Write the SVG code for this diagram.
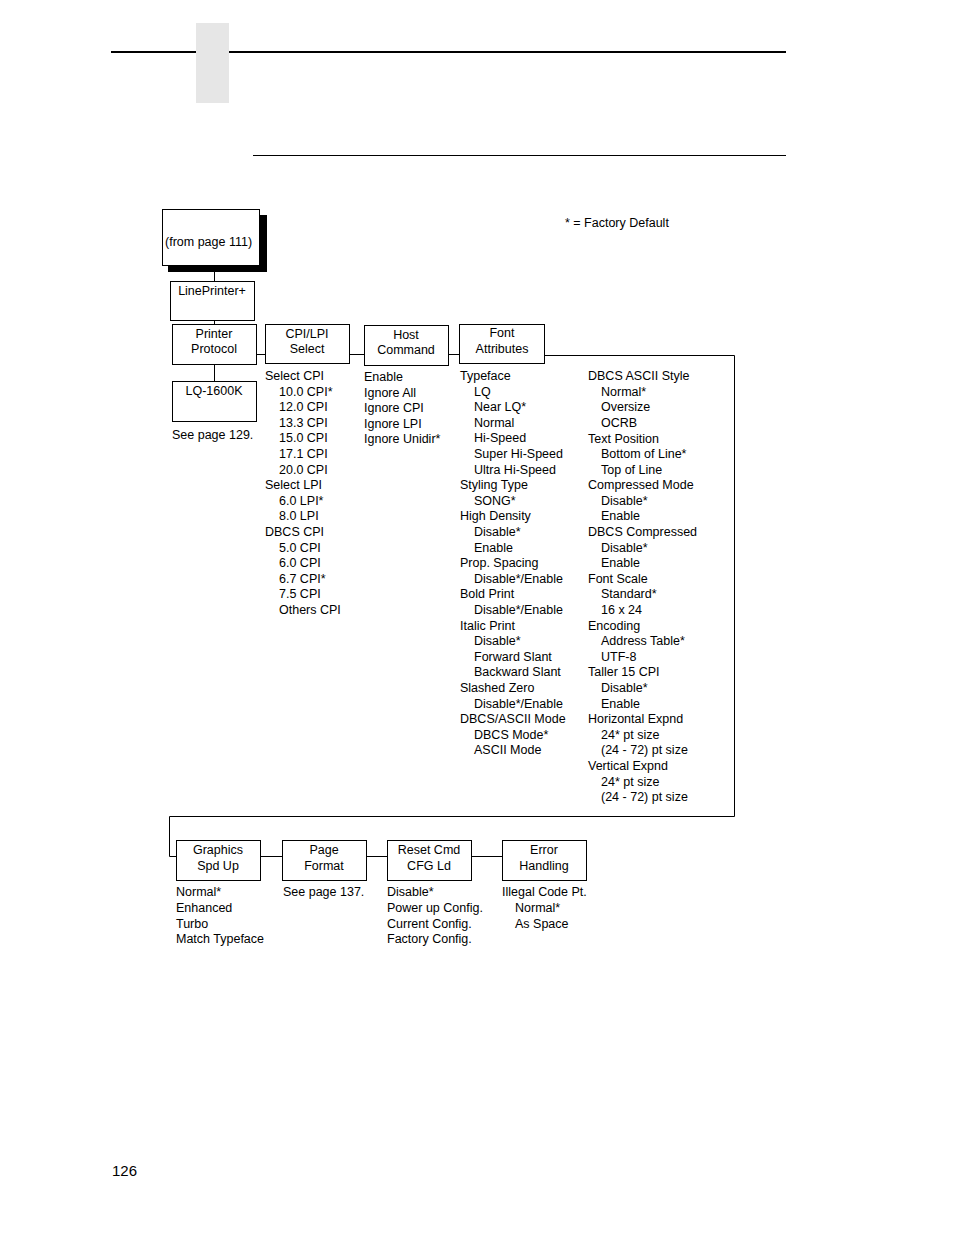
<svg xmlns="http://www.w3.org/2000/svg" width="954" height="1235" viewBox="0 0 954 1235">
<style>
text{font-family:"Liberation Sans",Arial,Helvetica,sans-serif;font-size:12.5px;fill:#000}
.c{text-anchor:middle}
.box{fill:#fff;stroke:#000;stroke-width:1}
.ln{fill:none;stroke:#000;stroke-width:1}
</style>
<rect width="954" height="1235" fill="#fff"/>
<g id="header">
<rect x="196" y="23" width="33" height="80" fill="#e6e6e6"/>
<line x1="111" y1="52" x2="196" y2="52" stroke="#000" stroke-width="2"/>
<line x1="229" y1="52" x2="786" y2="52" stroke="#000" stroke-width="2"/>
<line x1="253" y1="155.5" x2="786" y2="155.5" stroke="#000" stroke-width="1"/>
</g>
<g id="connectors" class="ln">
<line x1="214.5" y1="271" x2="214.5" y2="281"/>
<line x1="214.5" y1="320" x2="214.5" y2="324"/>
<line x1="214.5" y1="364" x2="214.5" y2="381"/>
<line x1="256" y1="354.5" x2="265" y2="354.5"/>
<line x1="349" y1="354.5" x2="364" y2="354.5"/>
<line x1="448" y1="354.5" x2="459" y2="354.5"/>
<polyline points="544,355.5 734.5,355.5 734.5,816.5 169.5,816.5 169.5,856.5 176,856.5"/>
<line x1="260" y1="856.5" x2="282" y2="856.5"/>
<line x1="366" y1="856.5" x2="387" y2="856.5"/>
<line x1="471" y1="856.5" x2="502" y2="856.5"/>
</g>
<g id="from-page">
<rect x="168" y="215" width="99" height="57" fill="#000"/>
<rect class="box" x="162.5" y="209.5" width="97" height="56"/>
<text x="165" y="246">(from page 111)</text>
</g>
<text id="legend" x="565" y="227">* = Factory Default</text>
<g id="lineprinter">
<rect class="box" x="170.5" y="281.5" width="84" height="39"/>
<text class="c" x="212" y="295">LinePrinter+</text>
</g>
<g id="printer-protocol">
<rect class="box" x="172.5" y="324.5" width="84" height="40"/>
<text class="c" x="214" y="338">Printer</text>
<text class="c" x="214" y="353">Protocol</text>
</g>
<g id="cpi-lpi">
<rect class="box" x="265.5" y="324.5" width="84" height="39"/>
<text class="c" x="307" y="338">CPI/LPI</text>
<text class="c" x="307" y="353">Select</text>
</g>
<g id="host-command">
<rect class="box" x="364.5" y="325.5" width="84" height="40"/>
<text class="c" x="406" y="339">Host</text>
<text class="c" x="406" y="354">Command</text>
</g>
<g id="font-attributes">
<rect class="box" x="459.5" y="324.5" width="85" height="39"/>
<text class="c" x="502" y="337">Font</text>
<text class="c" x="502" y="353">Attributes</text>
</g>
<g id="lq1600k">
<rect class="box" x="172.5" y="381.5" width="84" height="40"/>
<text class="c" x="214" y="395">LQ-1600K</text>
<text x="172" y="439">See page 129.</text>
</g>
<g id="cpi-list">
<text x="265" y="380">Select CPI</text>
<text x="279" y="396">10.0 CPI*</text>
<text x="279" y="411">12.0 CPI</text>
<text x="279" y="427">13.3 CPI</text>
<text x="279" y="442">15.0 CPI</text>
<text x="279" y="458">17.1 CPI</text>
<text x="279" y="474">20.0 CPI</text>
<text x="265" y="489">Select LPI</text>
<text x="279" y="505">6.0 LPI*</text>
<text x="279" y="520">8.0 LPI</text>
<text x="265" y="536">DBCS CPI</text>
<text x="279" y="552">5.0 CPI</text>
<text x="279" y="567">6.0 CPI</text>
<text x="279" y="583">6.7 CPI*</text>
<text x="279" y="598">7.5 CPI</text>
<text x="279" y="614">Others CPI</text>
</g>
<g id="host-list">
<text x="364" y="381">Enable</text>
<text x="364" y="397">Ignore All</text>
<text x="364" y="412">Ignore CPI</text>
<text x="364" y="428">Ignore LPI</text>
<text x="364" y="443">Ignore Unidir*</text>
</g>
<g id="font-list">
<text x="460" y="380">Typeface</text>
<text x="474" y="396">LQ</text>
<text x="474" y="411">Near LQ*</text>
<text x="474" y="427">Normal</text>
<text x="474" y="442">Hi-Speed</text>
<text x="474" y="458">Super Hi-Speed</text>
<text x="474" y="474">Ultra Hi-Speed</text>
<text x="460" y="489">Styling Type</text>
<text x="474" y="505">SONG*</text>
<text x="460" y="520">High Density</text>
<text x="474" y="536">Disable*</text>
<text x="474" y="552">Enable</text>
<text x="460" y="567">Prop. Spacing</text>
<text x="474" y="583">Disable*/Enable</text>
<text x="460" y="598">Bold Print</text>
<text x="474" y="614">Disable*/Enable</text>
<text x="460" y="630">Italic Print</text>
<text x="474" y="645">Disable*</text>
<text x="474" y="661">Forward Slant</text>
<text x="474" y="676">Backward Slant</text>
<text x="460" y="692">Slashed Zero</text>
<text x="474" y="708">Disable*/Enable</text>
<text x="460" y="723">DBCS/ASCII Mode</text>
<text x="474" y="739">DBCS Mode*</text>
<text x="474" y="754">ASCII Mode</text>
</g>
<g id="dbcs-list">
<text x="588" y="380">DBCS ASCII Style</text>
<text x="601" y="396">Normal*</text>
<text x="601" y="411">Oversize</text>
<text x="601" y="427">OCRB</text>
<text x="588" y="443">Text Position</text>
<text x="601" y="458">Bottom of Line*</text>
<text x="601" y="474">Top of Line</text>
<text x="588" y="489">Compressed Mode</text>
<text x="601" y="505">Disable*</text>
<text x="601" y="520">Enable</text>
<text x="588" y="536">DBCS Compressed</text>
<text x="601" y="552">Disable*</text>
<text x="601" y="567">Enable</text>
<text x="588" y="583">Font Scale</text>
<text x="601" y="598">Standard*</text>
<text x="601" y="614">16 x 24</text>
<text x="588" y="630">Encoding</text>
<text x="601" y="645">Address Table*</text>
<text x="601" y="661">UTF-8</text>
<text x="588" y="676">Taller 15 CPI</text>
<text x="601" y="692">Disable*</text>
<text x="601" y="708">Enable</text>
<text x="588" y="723">Horizontal Expnd</text>
<text x="601" y="739">24* pt size</text>
<text x="601" y="754">(24 - 72) pt size</text>
<text x="588" y="770">Vertical Expnd</text>
<text x="601" y="786">24* pt size</text>
<text x="601" y="801">(24 - 72) pt size</text>
</g>
<g id="graphics-spd-up">
<rect class="box" x="176.5" y="840.5" width="84" height="40"/>
<text class="c" x="218" y="854">Graphics</text>
<text class="c" x="218" y="870">Spd Up</text>
<text x="176" y="896">Normal*</text>
<text x="176" y="912">Enhanced</text>
<text x="176" y="928">Turbo</text>
<text x="176" y="943">Match Typeface</text>
</g>
<g id="page-format">
<rect class="box" x="282.5" y="840.5" width="84" height="40"/>
<text class="c" x="324" y="854">Page</text>
<text class="c" x="324" y="870">Format</text>
<text x="283" y="896">See page 137.</text>
</g>
<g id="reset-cmd">
<rect class="box" x="387.5" y="840.5" width="84" height="40"/>
<text class="c" x="429" y="854">Reset Cmd</text>
<text class="c" x="429" y="870">CFG Ld</text>
<text x="387" y="896">Disable*</text>
<text x="387" y="912">Power up Config.</text>
<text x="387" y="928">Current Config.</text>
<text x="387" y="943">Factory Config.</text>
</g>
<g id="error-handling">
<rect class="box" x="502.5" y="840.5" width="84" height="40"/>
<text class="c" x="544" y="854">Error</text>
<text class="c" x="544" y="870">Handling</text>
<text x="502" y="896">Illegal Code Pt.</text>
<text x="515" y="912">Normal*</text>
<text x="515" y="928">As Space</text>
</g>
<text id="page-number" x="112" y="1176" style="font-size:15px">126</text>
</svg>
